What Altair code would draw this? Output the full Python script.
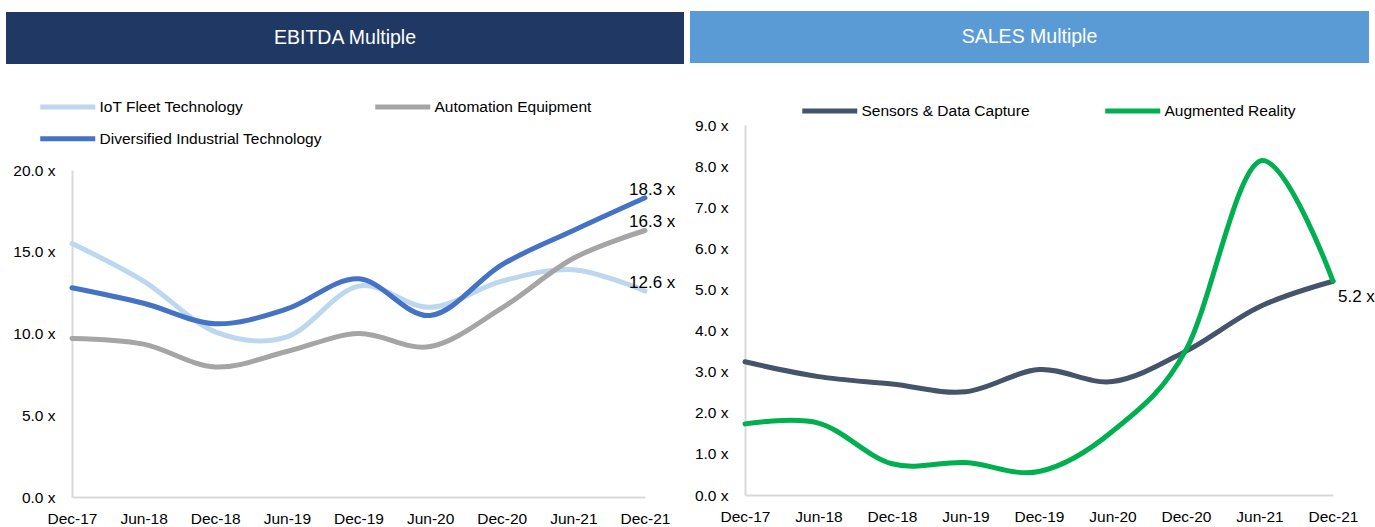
import altair as alt
import pandas as pd

# ---------------- data ----------------
periods = ["Dec-17", "Jun-18", "Dec-18", "Jun-19", "Dec-19", "Jun-20", "Dec-20", "Jun-21", "Dec-21"]

titles = ["EBITDA Multiple", "SALES Multiple"]

ebitda_series = ["IoT Fleet Technology", "Automation Equipment", "Diversified Industrial Technology"]
iot_fleet = [15.5, 13.2, 10.1, 9.8, 12.9, 11.6, 13.2, 13.9, 12.6]
automation = [9.7, 9.35, 7.95, 8.9, 10.0, 9.2, 11.55, 14.6, 16.3]
diversified = [12.8, 11.85, 10.6, 11.5, 13.35, 11.1, 14.2, 16.3, 18.3]
ebitda_colors = ["#BDD7EE", "#A5A5A5", "#4472C4"]
ebitda_ticks = [0, 5, 10, 15, 20]

sales_series = ["Sensors & Data Capture", "Augmented Reality"]
sensors = [3.24, 2.88, 2.7, 2.51, 3.05, 2.76, 3.5, 4.58, 5.2]
augmented = [1.73, 1.75, 0.76, 0.79, 0.57, 1.55, 3.53, 8.12, 5.2]
sales_colors = ["#44546A", "#00B050"]
sales_ticks = [0, 1, 2, 3, 4, 5, 6, 7, 8, 9]

FONT = "Liberation Sans, Arial, sans-serif"
AXIS_GREY = "#D9D9D9"


def build_df(series, values_list):
    rows = []
    for s, vals in zip(series, values_list):
        for p, v in zip(periods, vals):
            rows.append({"period": p, "series": s, "value": v})
    return pd.DataFrame(rows)


ebitda_df = build_df(ebitda_series, [iot_fleet, automation, diversified])
sales_df = build_df(sales_series, [sensors, augmented])


def x_enc():
    return alt.X(
        "period:N",
        sort=periods,
        scale=alt.Scale(type="point", padding=0),
        axis=alt.Axis(
            title=None, labelAngle=0, ticks=False, grid=False,
            domainColor=AXIS_GREY, domainWidth=2,
            labelFont=FONT, labelFontSize=15.5, labelColor="#000000", labelPadding=14,
        ),
    )


def y_enc(scale, ticks):
    return alt.Y(
        "value:Q",
        scale=scale,
        axis=alt.Axis(
            title=None, values=ticks, ticks=False, grid=False,
            labelExpr="format(datum.value, '.1f') + ' x'",
            domainColor=AXIS_GREY, domainWidth=2,
            labelFont=FONT, labelFontSize=15.5, labelColor="#000000", labelPadding=17,
        ),
    )


def panel(df, series, colors, yscale, ticks, width, height, header_color, title,
          header_box, legend_xy, col_pad, label_df_filter, label_dx, label_dy):
    color = alt.Color(
        "series:N",
        sort=series,
        scale=alt.Scale(domain=series, range=colors),
        legend=alt.Legend(
            title=None, orient="none", legendX=legend_xy[0], legendY=legend_xy[1],
            direction="horizontal", columns=2, columnPadding=col_pad, rowPadding=11,
            symbolType="M-5.5,0L5.5,0", symbolSize=100, symbolStrokeWidth=5,
            symbolOffset=20,
            labelFont=FONT, labelFontSize=15.5, labelColor="#000000",
            labelOffset=24, labelLimit=0,
        ),
    )
    lines = alt.Chart(df).mark_line(
        interpolate="cardinal", strokeWidth=5, strokeCap="round", strokeJoin="round"
    ).encode(x=x_enc(), y=y_enc(yscale, ticks), color=color, order=alt.Order("period_idx:Q"))
    lines = lines.transform_calculate(period_idx="indexof(" + str(periods) + ", datum.period)")

    labels = alt.Chart(df).transform_filter(label_df_filter).transform_calculate(
        label="format(datum.value, '.1f') + ' x'"
    ).mark_text(
        align="left", baseline="middle", dx=label_dx, dy=label_dy,
        font=FONT, fontSize=17, color="#000000",
    ).encode(x=x_enc(), y=y_enc(yscale, ticks), text="label:N")

    hdf = pd.DataFrame({"title": [title]})
    x1, x2, y1, y2 = header_box
    header = alt.Chart(hdf).mark_rect(color=header_color).encode(
        x=alt.value(x1), x2=alt.value(x2), y=alt.value(y1), y2=alt.value(y2)
    )
    header_text = alt.Chart(hdf).mark_text(
        color="#FFFFFF", font=FONT, fontSize=19.5, align="center", baseline="middle"
    ).encode(x=alt.value((x1 + x2) / 2), y=alt.value((y1 + y2) / 2), text="title:N")

    return alt.layer(header, header_text, lines, labels).properties(width=width, height=height)


left = panel(
    ebitda_df, ebitda_series, ebitda_colors,
    alt.Scale(domain=[0, 20], range=[372, 45]), ebitda_ticks,
    573, 372, "#203864", titles[0],
    (-66, 612, -113, -61), (-32, -26), 43,
    alt.datum.period == periods[-1], -16, -8,
)

right = panel(
    sales_df, sales_series, sales_colors,
    alt.Scale(domain=[0, 9]), sales_ticks,
    588, 370, "#5B9BD5", titles[1],
    (-55, 624, -114, -62), (57, -22), 65,
    (alt.datum.period == periods[-1]) & (alt.datum.series == sales_series[0]), 5, 16,
)

chart = alt.hconcat(left, right, spacing=100, bounds="flush").resolve_scale(
    color="independent", x="independent", y="independent"
).properties(
    padding={"left": 6, "top": 11, "right": 0, "bottom": 0},
    background="#FFFFFF",
).configure_view(stroke=None, strokeWidth=0)

chart.save("out.html", embed_options={"renderer": "svg", "actions": False})
